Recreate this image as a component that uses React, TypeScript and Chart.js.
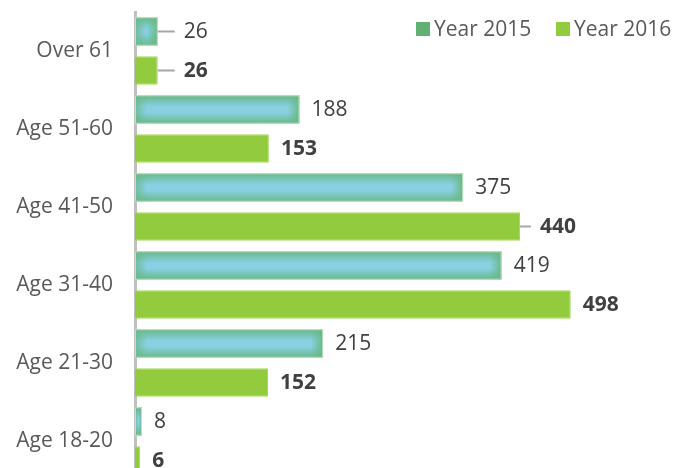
import React, { useEffect, useRef } from "react";
import { Chart, registerables } from "chart.js";

Chart.register(...registerables);

const categories = ["Over 61", "Age 51-60", "Age 41-50", "Age 31-40", "Age 21-30", "Age 18-20"];
const year2015 = [26, 188, 375, 419, 215, 8];
const year2016 = [26, 153, 440, 498, 152, 6];
const seriesNames = ["Year 2015", "Year 2016"];

const FONT = "'Open Sans', 'DejaVu Sans', sans-serif";

// labels that Excel pulled out with a leader line: key "dataset-index" -> extra offset
const leaderLabels: Record<string, number> = { "0-0": 14, "1-0": 14, "1-2": 8 };

const gradientBarsPlugin = {
  id: "gradientBars",
  afterDatasetDraw(chart: any, args: any) {
    if (args.index !== 0) return;
    const ctx = chart.ctx;
    const meta = chart.getDatasetMeta(0);
    const green = (a: number) => `rgba(104,184,136,${a})`;
    meta.data.forEach((bar: any) => {
      const { x, y, base, height } = bar.getProps(["x", "y", "base", "height"], true);
      const left = Math.min(base, x);
      const right = Math.max(base, x);
      const top = y - height / 2;
      const bottom = y + height / 2;
      const w = right - left;
      ctx.save();
      ctx.beginPath();
      ctx.rect(left, top, w, height);
      ctx.clip();
      ctx.fillStyle = "#88d0e2";
      ctx.fillRect(left, top, w, height);
      const vg = ctx.createLinearGradient(0, top, 0, bottom);
      vg.addColorStop(0, green(1));
      vg.addColorStop(0.4, green(0));
      vg.addColorStop(0.6, green(0));
      vg.addColorStop(1, green(1));
      ctx.fillStyle = vg;
      ctx.fillRect(left, top, w, height);
      const fade = Math.min(w / 2, 12);
      const hg = ctx.createLinearGradient(right - fade, 0, right, 0);
      hg.addColorStop(0, green(0));
      hg.addColorStop(1, green(1));
      ctx.fillStyle = hg;
      ctx.fillRect(right - fade, top, fade, height);
      const lg = ctx.createLinearGradient(left, 0, left + fade, 0);
      lg.addColorStop(0, green(0.8));
      lg.addColorStop(1, green(0));
      ctx.fillStyle = lg;
      ctx.fillRect(left, top, fade, height);
      ctx.restore();
      ctx.save();
      ctx.strokeStyle = "#c2e4bc";
      ctx.lineWidth = 1;
      ctx.strokeRect(left + 0.5, top + 0.5, w - 1, height - 1);
      ctx.restore();
    });
  },
};

const valueLabelsPlugin = {
  id: "valueLabels",
  afterDatasetsDraw(chart: any) {
    const ctx = chart.ctx;
    chart.data.datasets.forEach((ds: any, di: number) => {
      const meta = chart.getDatasetMeta(di);
      meta.data.forEach((bar: any, i: number) => {
        const { x, y } = bar.getProps(["x", "y"], true);
        const extra = leaderLabels[`${di}-${i}`] || 0;
        const gap = 12 + extra;
        ctx.save();
        if (extra) {
          ctx.strokeStyle = "#a6a6a6";
          ctx.lineWidth = 2;
          ctx.beginPath();
          ctx.moveTo(x, y);
          ctx.lineTo(x + gap - 9, y);
          ctx.stroke();
        }
        ctx.fillStyle = "#404040";
        ctx.font = `${di === 1 ? "bold " : ""}21px ${FONT}`;
        ctx.textAlign = "left";
        ctx.textBaseline = "middle";
        ctx.fillText(String(ds.data[i]), x + gap, y + 1);
        ctx.restore();
      });
    });
  },
};

const customLegendPlugin = {
  id: "customLegend",
  afterDraw(chart: any) {
    const ctx = chart.ctx;
    const items = [
      { text: seriesNames[0], color: "#62b073", x: 416 },
      { text: seriesNames[1], color: "#92cc3e", x: 556 },
    ];
    ctx.save();
    ctx.font = `21px ${FONT}`;
    ctx.textBaseline = "middle";
    ctx.textAlign = "left";
    items.forEach((it) => {
      ctx.fillStyle = it.color;
      ctx.fillRect(it.x, 22, 14, 14);
      ctx.fillStyle = "#595959";
      ctx.fillText(it.text, it.x + 18, 30);
    });
    ctx.restore();
  },
};

export default function App() {
  const canvasRef = useRef<HTMLCanvasElement | null>(null);

  useEffect(() => {
    if (!canvasRef.current) return;
    const chart = new Chart(canvasRef.current, {
      type: "bar",
      data: {
        labels: categories,
        datasets: [
          {
            label: seriesNames[0],
            data: year2015,
            backgroundColor: "rgba(0,0,0,0)",
            borderWidth: 0,
          },
          {
            label: seriesNames[1],
            data: year2016,
            backgroundColor: "#92cc3e",
            borderColor: "#a8d862",
            borderWidth: 1,
          },
        ],
      },
      options: {
        indexAxis: "y",
        animation: false,
        responsive: true,
        maintainAspectRatio: false,
        categoryPercentage: 1.0,
        barPercentage: 0.73,
        layout: { padding: { top: 12, right: 14, bottom: 10, left: 0 } },
        plugins: {
          legend: { display: false },
          tooltip: { enabled: false },
        },
        scales: {
          x: {
            display: false,
            min: 0,
            max: 600,
          },
          y: {
            afterFit: (scale: any) => {
              scale.width = 135;
              scale.paddingTop = 0;
              scale.paddingBottom = 0;
            },
            grid: { display: false, drawTicks: false },
            border: { display: true, color: "#bfbfbf", width: 3 },
            ticks: {
              color: "#595959",
              padding: 22,
              font: { family: FONT, size: 21 },
            },
          },
        },
      },
      plugins: [gradientBarsPlugin, valueLabelsPlugin, customLegendPlugin],
    });
    return () => chart.destroy();
  }, []);

  return (
    <div
      style={{
        position: "fixed",
        left: 0,
        top: 0,
        width: 674,
        height: 468,
        overflow: "hidden",
        background: "#ffffff",
      }}
    >
      <div style={{ position: "relative", width: 674, height: 490 }}>
        <canvas ref={canvasRef} />
      </div>
    </div>
  );
}
